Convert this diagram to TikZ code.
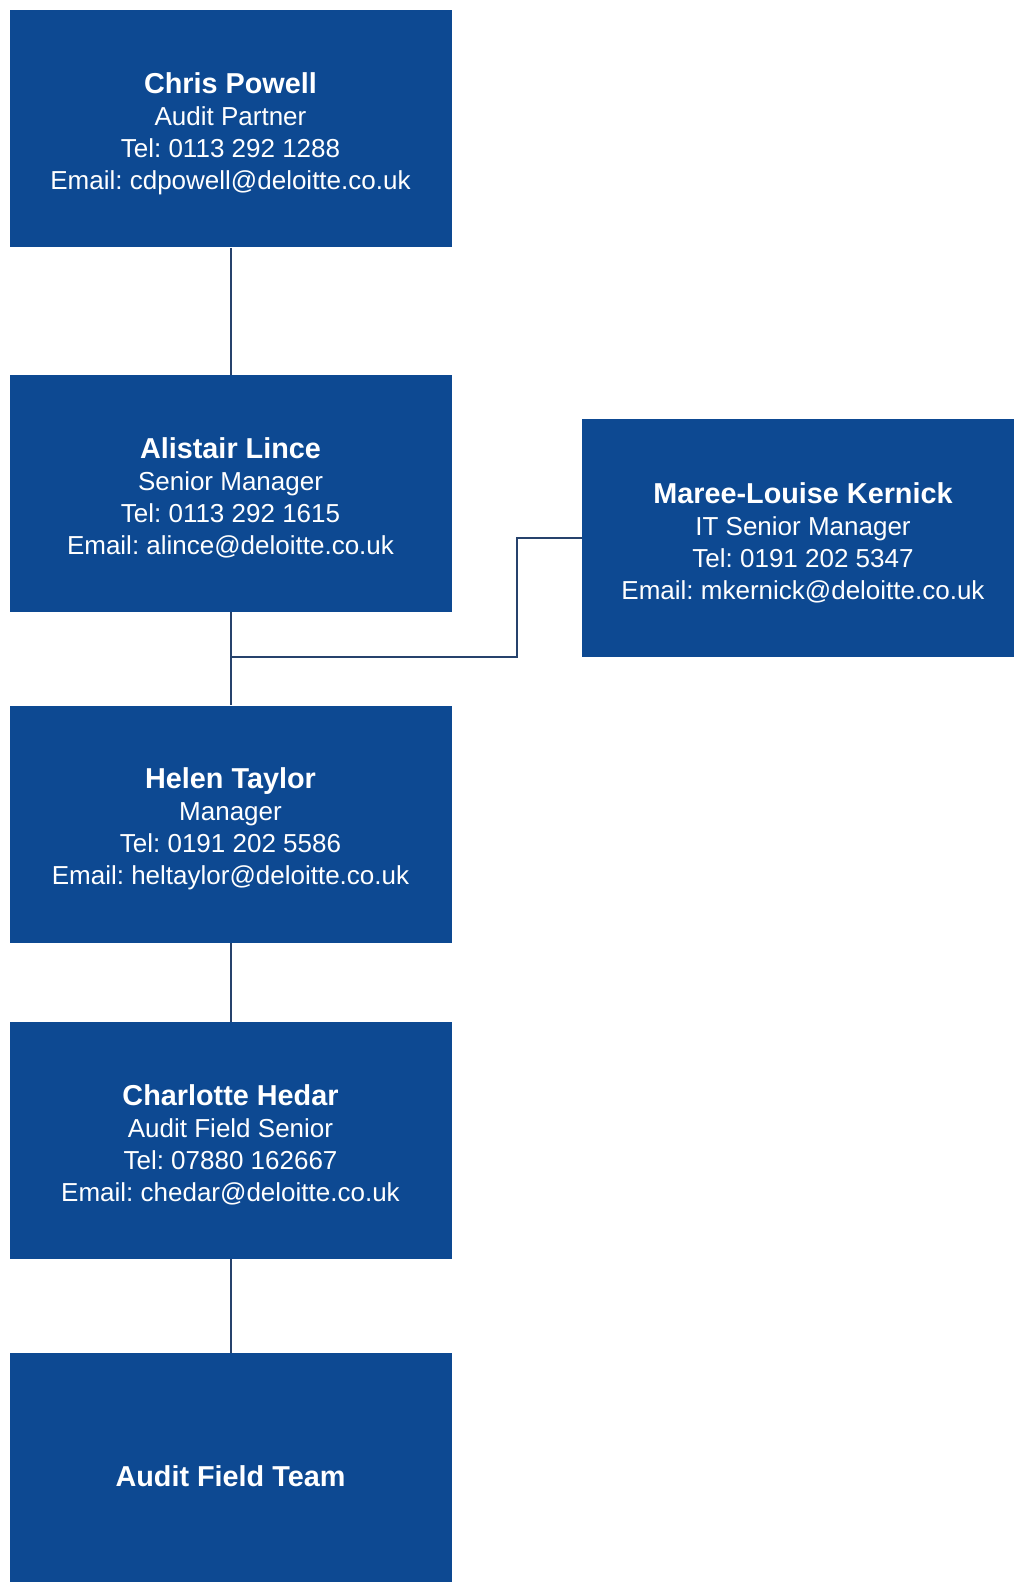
\documentclass[tikz,border=0pt]{standalone}
\usepackage{fontspec}
\setmainfont{Liberation Sans}
\frenchspacing
\usetikzlibrary{positioning}
\definecolor{boxblue}{RGB}{13,73,146}
\definecolor{linkblue}{RGB}{38,66,108}
\newcommand{\staffname}[1]{{\fontsize{14.4}{16}\selectfont\bfseries\rule{0pt}{15pt}#1}}

\begin{document}
\begin{tikzpicture}[node distance=160pt, on grid, inner sep=0pt,
    person/.style={rectangle, fill=boxblue, text=white, minimum width=221pt, minimum height=118.5pt, align=center, font=\fontsize{13}{16}\selectfont},
    link/.style={draw=linkblue, line width=1pt}]

\useasboundingbox (0,0) rectangle (506.5pt,-791pt);

\node [person] (p_1) at (115.25pt,-64.5pt) {\staffname{Chris Powell}\\Audit Partner\\Tel: 0113 292 1288\\Email: cdpowell@deloitte.co.uk};
\node [person] (p_2) [below=182.25pt of p_1] {\staffname{Alistair Lince}\\Senior Manager\\Tel: 0113 292 1615\\Email: alince@deloitte.co.uk};
\node [person] (p_3) [below right=22.25pt and 286.25pt of p_2] {\staffname{Maree-Louise Kernick}\\IT Senior Manager\\Tel: 0191 202 5347\\Email: mkernick@deloitte.co.uk};
\node [person] (p_4) [below=165.25pt of p_2] {\staffname{Helen Taylor}\\Manager\\Tel: 0191 202 5586\\Email: heltaylor@deloitte.co.uk};
\node [person] (p_5) [below=158.25pt of p_4] {\staffname{Charlotte Hedar}\\Audit Field Senior\\Tel: 07880 162667\\Email: chedar@deloitte.co.uk};
\node [person] (p_6) [below=165.5pt of p_5] {\staffname{Audit Field Team}};

\coordinate (split) at (p_2.south |- p_3.south);
\coordinate (bend) at ([xshift=-32.5pt]p_3.west);

\path [link]
      (p_1) edge (p_2)
      (p_2) edge (p_4)
      (p_4) edge (p_5)
      (p_5) edge (p_6)
      ;
\draw [link] (split) -| (bend) -- (p_3.west);

\end{tikzpicture}
\end{document}
